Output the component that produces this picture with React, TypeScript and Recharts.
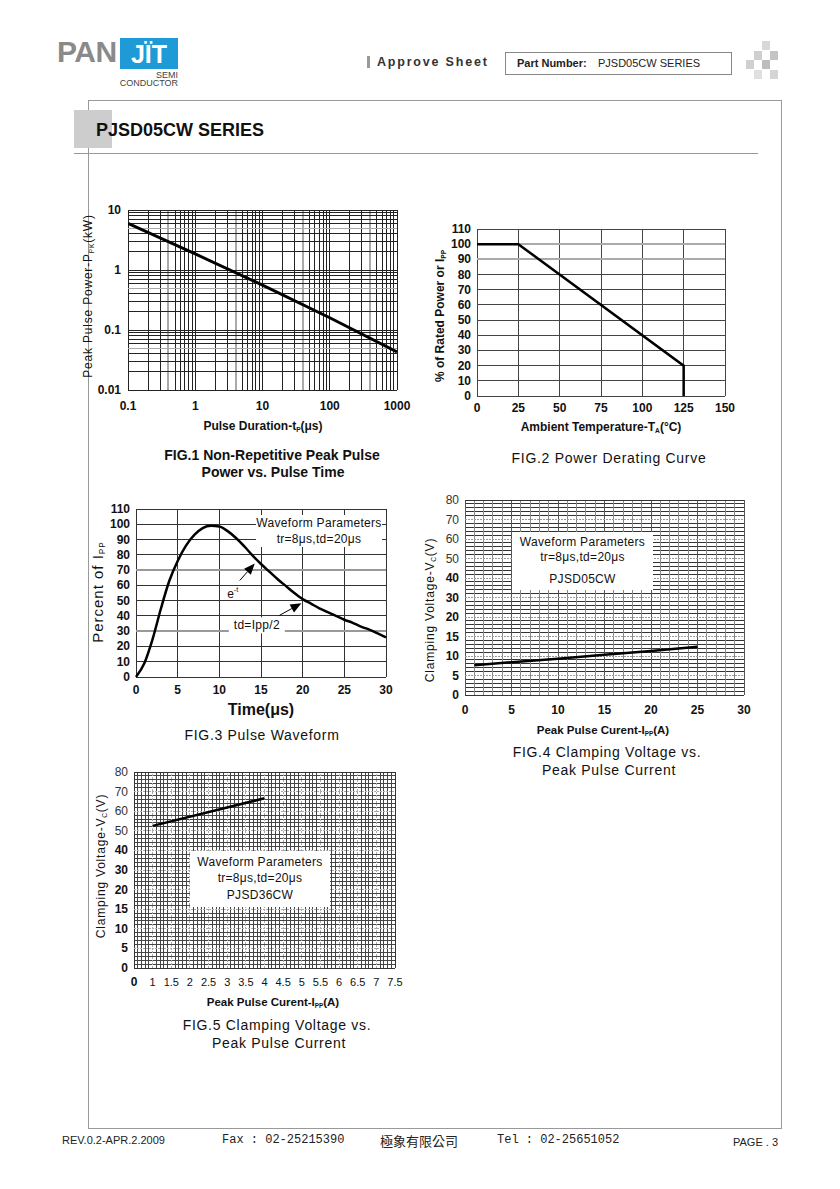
import React from 'react';
import { LineChart, Line, XAxis, YAxis, ReferenceLine, ReferenceDot } from 'recharts';

const FONT = '"Liberation Sans", Arial, Helvetica, sans-serif';

// ---------- FIG.1 data (log-log) ----------
const F1_TIME = [0.1, 1, 10, 100, 1000];
const F1_POWER = [6.0, 1.85, 0.56, 0.16, 0.043];
const F1_XTICKS = [0.1, 1, 10, 100, 1000];
const F1_YTICKS = [0.01, 0.1, 1, 10];

// ---------- FIG.2 data ----------
const F2_TEMP = [0, 25, 125, 125];
const F2_PCT = [100, 100, 20, 0];
const F2_XTICKS = [0, 25, 50, 75, 100, 125, 150];
const F2_YTICKS = [0, 10, 20, 30, 40, 50, 60, 70, 80, 90, 100, 110];

// ---------- FIG.3 data ----------
const F3_TIME = [0, 1, 2, 3, 4, 5, 6, 7, 8, 9, 10, 11, 12, 13, 14, 15, 16, 17, 18, 19, 20, 21, 22, 23, 24, 25, 26, 27, 28, 29, 30];
const F3_PCT = [0, 9, 25, 45, 63, 76, 86, 93, 97.5, 99, 98.5, 95.5, 91, 85.5, 79.5, 74, 69, 64, 59.5, 55, 51, 48, 45, 42.5, 40, 37.5, 35.5, 33, 31, 28.5, 26];
const F3_XTICKS = [0, 5, 10, 15, 20, 25, 30];
const F3_YTICKS = [0, 10, 20, 30, 40, 50, 60, 70, 80, 90, 100, 110];

// ---------- FIG.4 data ----------
const F4_CURRENT = [1, 5, 10, 15, 20, 25];
const F4_VOLT = [7.6, 8.4, 9.3, 10.3, 11.3, 12.4];
const F4_XTICKS = [0, 5, 10, 15, 20, 25, 30];
const VC_LABELS = [0, 5, 10, 15, 20, 30, 40, 50, 60, 70, 80];

// ---------- FIG.5 data ----------
const F5_CURRENT = [1, 4];
const F5_VOLT = [52.5, 66.6];
const F5_XLABELS = [0, 1, 1.5, 2, 2.5, 3, 3.5, 4, 4.5, 5, 5.5, 6, 6.5, 7, 7.5];

// piecewise mapping of a value onto evenly spaced label positions
const toIdx = (labels: number[], v: number) => {
  for (let i = 0; i < labels.length - 1; i++) {
    if (v >= labels[i] && v <= labels[i + 1]) return i + (v - labels[i]) / (labels[i + 1] - labels[i]);
  }
  return v < labels[0] ? 0 : labels.length - 1;
};

const range = (n: number, step = 1) => Array.from({ length: n }, (_, i) => +(i * step).toFixed(4));

// layout constants for the charts
const YW = 50, MT = 8, MR = 20, XH = 30;

const Place = ({ left, top, children }: any) => (
  <div style={{ position: 'absolute', left: left - YW, top: top - MT }}>{children}</div>
);

const T = ({ x, y, children, size = 12, weight = 'normal', anchor = 'center', color = '#111', ls = 0, family = FONT }: any) => {
  const tx = anchor === 'center' ? '-50%' : anchor === 'right' ? '-100%' : '0';
  return (
    <div style={{ position: 'absolute', left: x, top: y, transform: `translate(${tx},-50%)`, fontSize: size, fontWeight: weight, color, letterSpacing: ls, fontFamily: family, whiteSpace: 'nowrap', lineHeight: 1 }}>
      {children}
    </div>
  );
};

const RT = ({ x, y, children, size = 12, weight = 'normal', ls = 0 }: any) => (
  <div style={{ position: 'absolute', left: x, top: y, transform: 'translate(-50%,-50%) rotate(-90deg)', fontSize: size, fontWeight: weight, letterSpacing: ls, fontFamily: FONT, whiteSpace: 'nowrap', lineHeight: 1, color: '#111' }}>
    {children}
  </div>
);

const Sub = ({ children }: any) => (
  <span style={{ fontSize: '0.55em', position: 'relative', top: '0.3em' }}>{children}</span>
);

const xTick = (dy: number, fmt: (v: number) => any, style: (v: number) => any) => (props: any) => {
  const { x, y, payload } = props;
  const s = style(payload.value);
  return (
    <text x={x} y={y + dy} textAnchor="middle" dominantBaseline="central" fontFamily={FONT} fontSize={s.size} fontWeight={s.weight} fill="#111">
      {fmt(payload.value)}
    </text>
  );
};
const yTick = (gap: number, fmt: (v: number) => any, style: (v: number) => any) => (props: any) => {
  const { x, y, payload } = props;
  const s = style(payload.value);
  return (
    <text x={x - gap} y={y} textAnchor="end" dominantBaseline="central" fontFamily={FONT} fontSize={s.size} fontWeight={s.weight} fill={s.fill || '#111'}>
      {fmt(payload.value)}
    </text>
  );
};
const boldStyle = () => ({ size: 12, weight: 'bold' });
const id = (v: number) => v;

const vLines = (vals: number[], color: (v: number) => string, w: (v: number) => number, dash?: (v: number) => string | undefined) =>
  vals.map((v, i) => <ReferenceLine key={'v' + i} x={v} stroke={color(v)} strokeWidth={w(v)} strokeDasharray={dash ? dash(v) : undefined} ifOverflow="visible" shapeRendering="crispEdges" />);
const hLines = (vals: number[], color: (v: number) => string, w: (v: number) => number, dash?: (v: number) => string | undefined) =>
  vals.map((v, i) => <ReferenceLine key={'h' + i} y={v} stroke={color(v)} strokeWidth={w(v)} strokeDasharray={dash ? dash(v) : undefined} ifOverflow="visible" shapeRendering="crispEdges" />);

const arrowShape = (props: any) => {
  const { x1, y1, x2, y2 } = props;
  const ang = Math.atan2(y2 - y1, x2 - x1);
  const L = 11, W = 4.5;
  const bx = x2 - L * Math.cos(ang), by = y2 - L * Math.sin(ang);
  const px = -Math.sin(ang) * W, py = Math.cos(ang) * W;
  return (
    <g>
      <line x1={x1} y1={y1} x2={bx} y2={by} stroke="#000" strokeWidth={1} />
      <polygon points={`${x2},${y2} ${bx + px},${by + py} ${bx - px},${by - py}`} fill="#000" />
    </g>
  );
};

// ---------------- FIG 1 ----------------
const Fig1 = () => {
  const data = F1_TIME.map((t, i) => ({ t, p: F1_POWER[i] }));
  const xg: number[] = [];
  [0.1, 1, 10, 100].forEach((d) => { for (let k = 1; k <= 9; k++) xg.push(d * k); });
  xg.push(1000);
  const yg: number[] = [];
  [0.01, 0.1, 1].forEach((d) => { for (let k = 1; k <= 9; k++) yg.push(d * k); });
  yg.push(10);
  const isK = (v: number, k: number) => { const m = v / Math.pow(10, Math.floor(Math.log10(v) + 1e-9)); return Math.abs(m - k) < 1e-6; };
  return (
    <Place left={128} top={210}>
      <LineChart width={YW + 269 + MR} height={MT + 180 + XH} data={data} margin={{ top: MT, right: MR, left: 0, bottom: 0 }}>
        <XAxis dataKey="t" type="number" scale="log" domain={[0.1, 1000]} ticks={F1_XTICKS} allowDataOverflow interval={0}
          axisLine={false} tickLine={false} tickSize={0} tickMargin={0} height={XH} tick={xTick(16, id, boldStyle)} />
        <YAxis type="number" scale="log" domain={[0.01, 10]} ticks={F1_YTICKS} allowDataOverflow interval={0}
          axisLine={false} tickLine={false} tickSize={0} tickMargin={0} width={YW} tick={yTick(7, id, boldStyle)} />
        {vLines(xg, (v) => (isK(v, 4) ? '#aaa' : '#222'), (v) => (isK(v, 4) ? 2 : 1))}
        {hLines(yg, (v) => (isK(v, 5) ? '#aaa' : '#222'), () => 1)}
        <Line dataKey="p" type="linear" stroke="#000" strokeWidth={3} dot={false} isAnimationActive={false} />
      </LineChart>
    </Place>
  );
};

// ---------------- FIG 2 ----------------
const Fig2 = () => {
  const data = F2_TEMP.map((t, i) => ({ t, p: F2_PCT[i] }));
  return (
    <Place left={477} top={229}>
      <LineChart width={YW + 248 + MR} height={MT + 167 + XH} data={data} margin={{ top: MT, right: MR, left: 0, bottom: 0 }}>
        <XAxis dataKey="t" type="number" domain={[0, 150]} ticks={F2_XTICKS} interval={0}
          axisLine={false} tickLine={false} tickSize={0} tickMargin={0} height={XH} tick={xTick(12, id, boldStyle)} />
        <YAxis type="number" domain={[0, 110]} ticks={F2_YTICKS} interval={0}
          axisLine={false} tickLine={false} tickSize={0} tickMargin={0} width={YW} tick={yTick(6, id, boldStyle)} />
        {vLines(F2_XTICKS, () => '#444', () => 1)}
        {hLines(F2_YTICKS, (v) => (v === 90 || v === 100 ? '#aaa' : '#444'), (v) => (v === 90 || v === 100 ? 2 : 1))}
        <Line dataKey="p" type="linear" stroke="#000" strokeWidth={2.5} dot={false} isAnimationActive={false} />
      </LineChart>
    </Place>
  );
};

// ---------------- FIG 3 ----------------
const Fig3 = () => {
  const data = F3_TIME.map((t, i) => ({ t, p: F3_PCT[i] }));
  return (
    <Place left={136} top={509}>
      <LineChart width={YW + 250 + MR} height={MT + 168 + XH} data={data} margin={{ top: MT, right: MR, left: 0, bottom: 0 }}>
        <XAxis dataKey="t" type="number" domain={[0, 30]} ticks={F3_XTICKS} interval={0}
          axisLine={false} tickLine={false} tickSize={0} tickMargin={0} height={XH} tick={xTick(13, id, boldStyle)} />
        <YAxis type="number" domain={[0, 110]} ticks={F3_YTICKS} interval={0}
          axisLine={false} tickLine={false} tickSize={0} tickMargin={0} width={YW} tick={yTick(6, id, boldStyle)} />
        {vLines(F3_XTICKS, () => '#333', () => 1)}
        {hLines(F3_YTICKS, (v) => (v === 30 || v === 70 ? '#999' : '#333'), (v) => (v === 30 || v === 70 ? 2 : 1))}
        <Line dataKey="p" type="monotone" stroke="#000" strokeWidth={2.5} dot={false} isAnimationActive={false} />
        <ReferenceLine segment={[{ x: 12.45, y: 63.2 }, { x: 14.25, y: 74.3 }]} shape={arrowShape} />
        <ReferenceLine segment={[{ x: 17.2, y: 40.3 }, { x: 19.85, y: 48.3 }]} shape={arrowShape} />
        <ReferenceDot x={11.6} y={54.6} r={0} shape={(p: any) => (
          <text x={p.cx} y={p.cy} textAnchor="middle" dominantBaseline="central" fontFamily={FONT} fontSize={12} fill="#111">
            e<tspan fontSize={7} dy={-5}>-t</tspan>
          </text>
        )} />
        <ReferenceDot x={14.5} y={33.8} r={0} shape={(p: any) => (
          <g>
            <rect x={p.cx - 28} y={p.cy - 8} width={56} height={16} fill="#fff" />
            <text x={p.cx} y={p.cy} textAnchor="middle" dominantBaseline="central" fontFamily={FONT} fontSize={12} letterSpacing={0.3} fill="#111">td=Ipp/2</text>
          </g>
        )} />
      </LineChart>
    </Place>
  );
};

// ---------------- FIG 4 ----------------
const Fig4 = () => {
  const data = F4_CURRENT.map((c, i) => ({ c, v: toIdx(VC_LABELS, F4_VOLT[i]) }));
  const yIdx = range(VC_LABELS.length);
  const yMinor = range(51, 0.2).filter((v) => Math.abs(v - Math.round(v)) > 1e-6);
  const xAll = range(31);
  return (
    <Place left={465} top={500}>
      <LineChart width={YW + 279 + MR} height={MT + 195 + XH} data={data} margin={{ top: MT, right: MR, left: 0, bottom: 0 }}>
        <XAxis dataKey="c" type="number" domain={[0, 30]} ticks={F4_XTICKS} interval={0}
          axisLine={false} tickLine={false} tickSize={0} tickMargin={0} height={XH} tick={xTick(15, id, boldStyle)} />
        <YAxis type="number" domain={[0, 10]} ticks={yIdx} interval={0}
          axisLine={false} tickLine={false} tickSize={0} tickMargin={0} width={YW}
          tick={yTick(6, (i) => VC_LABELS[i], (i) => (VC_LABELS[i] >= 50 ? { size: 12, weight: 'normal', fill: '#333' } : { size: 12, weight: 'bold' }))} />
        {hLines(yMinor, () => '#333', () => 1)}
        {vLines(xAll, (v) => (v % 5 === 0 ? '#555' : '#888'), () => 1)}
        {hLines(yIdx, (v) => (v === 0 || v === 10 ? '#333' : '#999'), () => 1, (v) => (v === 0 || v === 10 ? undefined : '2 1'))}
        <Line dataKey="v" type="linear" stroke="#000" strokeWidth={2.5} dot={false} isAnimationActive={false} />
      </LineChart>
    </Place>
  );
};

// ---------------- FIG 5 ----------------
const Fig5 = () => {
  const data = F5_CURRENT.map((c, i) => ({ c: toIdx(F5_XLABELS, c), v: toIdx(VC_LABELS, F5_VOLT[i]) }));
  const xIdx = range(F5_XLABELS.length);
  const yIdx = range(VC_LABELS.length);
  const xMinor = range(71, 0.2).filter((v) => Math.abs(v - Math.round(v)) > 1e-6);
  const yMinor = range(51, 0.2).filter((v) => Math.abs(v - Math.round(v)) > 1e-6);
  return (
    <Place left={134} top={772}>
      <LineChart width={YW + 261 + MR} height={MT + 196 + XH} data={data} margin={{ top: MT, right: MR, left: 0, bottom: 0 }}>
        <XAxis dataKey="c" type="number" domain={[0, 14]} ticks={xIdx} interval={0}
          axisLine={false} tickLine={false} tickSize={0} tickMargin={0} height={XH}
          tick={xTick(14, (i) => F5_XLABELS[i], (i) => (i === 0 ? { size: 12, weight: 'bold' } : { size: 11, weight: 'normal' }))} />
        <YAxis type="number" domain={[0, 10]} ticks={yIdx} interval={0}
          axisLine={false} tickLine={false} tickSize={0} tickMargin={0} width={YW}
          tick={yTick(6, (i) => VC_LABELS[i], (i) => (VC_LABELS[i] >= 50 ? { size: 12, weight: 'normal', fill: '#333' } : { size: 12, weight: 'bold' }))} />
        {hLines(yMinor, () => '#444', () => 1)}
        {vLines(xMinor, () => '#444', () => 1)}
        {vLines(xIdx, (v) => (v === 0 || v === 14 ? '#333' : '#aaa'), () => 1, (v) => (v === 0 || v === 14 ? undefined : '2 1'))}
        {hLines(yIdx, (v) => (v === 0 || v === 10 ? '#333' : '#aaa'), () => 1, (v) => (v === 0 || v === 10 ? undefined : '2 1'))}
        <Line dataKey="v" type="linear" stroke="#000" strokeWidth={2.5} dot={false} isAnimationActive={false} />
      </LineChart>
    </Place>
  );
};

const InfoBox = ({ left, top, width, height, lines }: any) => (
  <div style={{ position: 'absolute', left, top, width, height, background: '#fff' }}>
    {lines.map((l: any, i: number) => (
      <div key={i} style={{ position: 'absolute', left: 0, width, top: l.y - top, transform: 'translateY(-50%)', textAlign: 'center', fontFamily: FONT, fontSize: 12, letterSpacing: 0.3, lineHeight: 1, color: '#111', whiteSpace: 'nowrap' }}>
        {l.text}
      </div>
    ))}
  </div>
);

const Header = () => (
  <>
    <T x={57} y={52} size={30} weight="bold" anchor="left" color="#8a8a8a" ls={-0.5}>PAN</T>
    <div style={{ position: 'absolute', left: 120, top: 38, width: 58, height: 31, background: '#1e9bd7' }} />
    <T x={149} y={54} size={25} weight="bold" color="#fff">JÏT</T>
    <T x={178} y={74.5} size={9} anchor="right" color="#444">SEMI</T>
    <T x={178} y={83} size={9} anchor="right" color="#444">CONDUCTOR</T>
    <div style={{ position: 'absolute', left: 367, top: 56, width: 3, height: 12, background: '#999' }} />
    <T x={377} y={62} size={12.5} weight="bold" anchor="left" color="#333" ls={1.8}>Approve Sheet</T>
    <div style={{ position: 'absolute', left: 505, top: 52, width: 225, height: 21, border: '1px solid #888' }} />
    <T x={517} y={63} size={11} weight="bold" anchor="left" color="#222">Part Number:</T>
    <T x={598} y={63} size={11} anchor="left" color="#222">PJSD05CW SERIES</T>
    {[[762, 41, '#d8d8d8'], [754, 51, '#cfcfcf'], [770, 51, '#c4c4c4'], [746, 60, '#d0d0d0'], [762, 60, '#bdbdbd'], [770, 70, '#d4d4d4'], [754, 70, '#e0e0e0']].map((s: any, i) => (
      <div key={i} style={{ position: 'absolute', left: s[0], top: s[1], width: 8, height: 9, background: s[2] }} />
    ))}
    <div style={{ position: 'absolute', left: 88, top: 100, width: 692, height: 1027, border: '1px solid #999' }} />
    <div style={{ position: 'absolute', left: 74, top: 110, width: 38, height: 38, background: '#cdcdcd' }} />
    <T x={96} y={130} size={18} weight="bold" anchor="left" color="#111">PJSD05CW SERIES</T>
    <div style={{ position: 'absolute', left: 74, top: 153, width: 684, height: 1, background: '#999' }} />
  </>
);

const Footer = () => (
  <>
    <T x={62} y={1140} size={11} anchor="left" color="#222">REV.0.2-APR.2.2009</T>
    <T x={222} y={1140} size={12} anchor="left" color="#222" family='"Liberation Mono", monospace'>Fax : 02-25215390</T>
    <T x={380} y={1140} size={13} anchor="left" color="#222" family='"Noto Sans CJK TC", sans-serif'>極象有限公司</T>
    <T x={497} y={1140} size={12} anchor="left" color="#222" family='"Liberation Mono", monospace'>Tel : 02-25651052</T>
    <T x={733} y={1142} size={11} anchor="left" color="#222">PAGE . 3</T>
  </>
);

export default function App() {
  return (
    <div style={{ position: 'absolute', left: 0, top: 0, width: 840, height: 1189, background: '#fff', fontFamily: FONT, overflow: 'hidden' }}>
      <Header />

      {/* FIG 1 */}
      <Fig1 />
      <RT x={88} y={296} size={12} ls={0.8}>Peak Pulse Power-P<Sub>PK</Sub>(kW)</RT>
      <T x={263} y={426} size={12} weight="bold">Pulse Duration-t<Sub>P</Sub>(μs)</T>
      <T x={272} y={455} size={14} weight="bold">FIG.1 Non-Repetitive Peak Pulse</T>
      <T x={273} y={472} size={14} weight="bold">Power vs. Pulse Time</T>

      {/* FIG 2 */}
      <Fig2 />
      <RT x={440} y={316} size={12} weight="bold">% of Rated Power or I<Sub>PP</Sub></RT>
      <T x={601} y={427} size={12} weight="bold">Ambient Temperature-T<Sub>A</Sub>(°C)</T>
      <T x={609} y={458} size={14} ls={0.7}>FIG.2 Power Derating Curve</T>

      {/* FIG 3 */}
      <Fig3 />
      <InfoBox left={256} top={515} width={126} height={32} lines={[{ y: 523, text: 'Waveform Parameters' }, { y: 539, text: 'tr=8μs,td=20μs' }]} />
      <RT x={98} y={592} size={15} ls={1}>Percent of I<Sub>PP</Sub></RT>
      <T x={261} y={710} size={16} weight="bold">Time(μs)</T>
      <T x={262} y={735} size={14} ls={0.7}>FIG.3 Pulse Waveform</T>

      {/* FIG 4 */}
      <Fig4 />
      <InfoBox left={512} top={532} width={141} height={58} lines={[{ y: 542, text: 'Waveform Parameters' }, { y: 557, text: 'tr=8μs,td=20μs' }, { y: 579, text: 'PJSD05CW' }]} />
      <RT x={430} y={610} size={12} ls={0.8}>Clamping Voltage-V<Sub>C</Sub>(V)</RT>
      <T x={603} y={731} size={11.5} weight="bold">Peak Pulse Curent-I<Sub>PP</Sub>(A)</T>
      <T x={607} y={752} size={14} ls={0.7}>FIG.4 Clamping Voltage vs.</T>
      <T x={609} y={770} size={14} ls={0.7}>Peak Pulse Current</T>

      {/* FIG 5 */}
      <Fig5 />
      <InfoBox left={190} top={851} width={140} height={56} lines={[{ y: 862, text: 'Waveform Parameters' }, { y: 878, text: 'tr=8μs,td=20μs' }, { y: 895, text: 'PJSD36CW' }]} />
      <RT x={101} y={866} size={12} ls={0.8}>Clamping Voltage-V<Sub>C</Sub>(V)</RT>
      <T x={273} y={1003} size={11.5} weight="bold">Peak Pulse Curent-I<Sub>PP</Sub>(A)</T>
      <T x={277} y={1025} size={14} ls={0.7}>FIG.5 Clamping Voltage vs.</T>
      <T x={279} y={1043} size={14} ls={0.7}>Peak Pulse Current</T>

      <Footer />
    </div>
  );
}
